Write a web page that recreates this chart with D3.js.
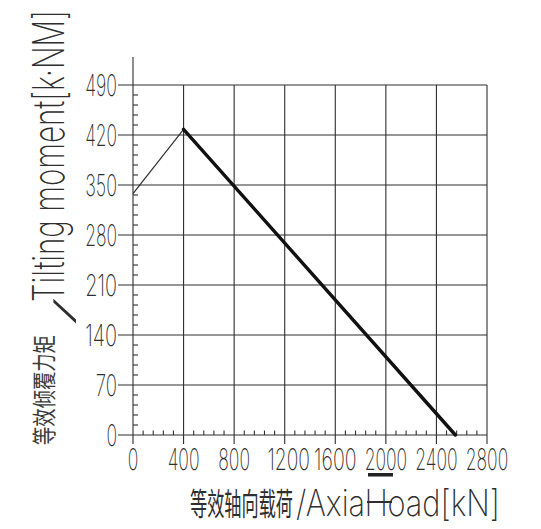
<!DOCTYPE html>
<html><head><meta charset="utf-8">
<script src="https://cdn.jsdelivr.net/npm/d3@7"></script>
<style>body{margin:0;background:#fff}</style>
</head><body><svg id="c" width="541" height="529"></svg>
<script>
// ---- data ----
const xTicks = [0, 400, 800, 1200, 1600, 2000, 2400, 2800];
const yTicks = [0, 70, 140, 210, 280, 350, 420, 490];
const xTickLabels = ["0", "400", "800", "1200", "1600", "2000", "2400", "2800"];
const yTickLabels = ["0", "70", "140", "210", "280", "350", "420", "490"];
const thinLoad = [0, 400];
const thinMoment = [338, 428];
const thickLoad = [400, 2550];
const thickMoment = [428, 0];
const xTitleCn = "等效轴向载荷";
const xTitleEn = "/Axial load[kN]";
const yTitleCn = "等效倾覆力矩";
const yTitleSlash = "/";
const yTitleEn = "Tilting moment[k·NM]";

const svg = d3.select("#c");
const ink = "#2e2e2e";
const latin = "Inter, Lato, sans-serif";
const cjk = "'Noto Sans CJK SC', sans-serif";

const x = d3.scaleLinear().domain([0, 2800]).range([133, 487]);
const y = d3.scaleLinear().domain([0, 490]).range([435, 85]);

// grid
const g = svg.append("g").attr("stroke", ink).attr("stroke-width", 1.1).attr("fill", "none");
g.selectAll(".hg").data(yTicks).join("line")
  .attr("x1", x(0) - 15).attr("x2", x(2800))
  .attr("y1", d => y(d)).attr("y2", d => y(d));
g.selectAll(".vg").data(xTicks).join("line")
  .attr("y1", d => d === 0 ? 57 : y(490)).attr("y2", y(0) + 9)
  .attr("x1", d => x(d)).attr("x2", d => x(d));

// minor ticks
const yMinor = d3.range(0, 490, 14).filter(v => v % 70 !== 0);
g.selectAll(".ym").data(yMinor).join("line")
  .attr("x1", x(0)).attr("x2", x(0) + 5)
  .attr("y1", d => y(d)).attr("y2", d => y(d));
const xMinor = d3.range(0, 2800, 80).filter(v => v % 400 !== 0);
g.selectAll(".xm").data(xMinor).join("line")
  .attr("y1", y(0)).attr("y2", y(0) - 4.5)
  .attr("x1", d => x(d)).attr("x2", d => x(d));

// series
const line = d3.line().x(d => x(d[0])).y(d => y(d[1]));
svg.append("path").datum(d3.zip(thinLoad, thinMoment)).attr("d", line)
  .attr("fill", "none").attr("stroke", ink).attr("stroke-width", 1.2);
svg.append("path").datum(d3.zip(thickLoad, thickMoment)).attr("d", line)
  .attr("fill", "none").attr("stroke", "#111").attr("stroke-width", 3.4)
  .attr("stroke-linecap", "round");

// text fitted to a width by a horizontal scale
function fit(txt, o) {
  const t = svg.append("text").attr("x", 0).attr("y", 0)
    .attr("text-anchor", o.anchor || "start").attr("font-size", o.size)
    .attr("font-family", o.family || latin).attr("font-weight", o.family ? 400 : (o.weight || 250))
    .attr("fill", o.fill || ink).text(txt);
  const len = t.node().getComputedTextLength() || 1;
  const s = o.width / len;
  t.attr("transform", `translate(${o.x},${o.y}) rotate(${o.rot || 0}) scale(${s},1)`);
  return t;
}

// tick labels
yTicks.forEach((v, i) => fit(yTickLabels[i], {x: 117, y: y(v) + 11, anchor: "end", size: 30, width: yTickLabels[i].length * 10.6}));
xTicks.forEach((v, i) => fit(xTickLabels[i], {x: x(v) + (v === 1200 ? 4 : 0), y: 470, anchor: "middle", size: 30, width: xTickLabels[i].length * 10.6}));

// x title
fit(xTitleCn, {x: 190, y: 515, size: 31, family: cjk, width: 103});
fit(xTitleEn, {x: 296, y: 516, size: 36, width: 204, weight: 220});
// marks over the title
svg.append("line").attr("x1", 367).attr("x2", 392).attr("y1", 502).attr("y2", 502)
  .attr("stroke", ink).attr("stroke-width", 2);
svg.append("rect").attr("x", 368).attr("y", 473).attr("width", 25).attr("height", 3.5).attr("fill", "#222");

// y title (rotated, reads bottom to top)
fit(yTitleCn, {x: 53, y: 445, rot: -90, size: 24, family: cjk, width: 110, fill: "#3a3a3a"});
fit(yTitleEn, {x: 64, y: 302, rot: -90, size: 43, width: 292, weight: 220});
fit(yTitleSlash, {x: 73, y: 326, rot: -90, size: 26, width: 30, weight: 220});
</script></body></html>
